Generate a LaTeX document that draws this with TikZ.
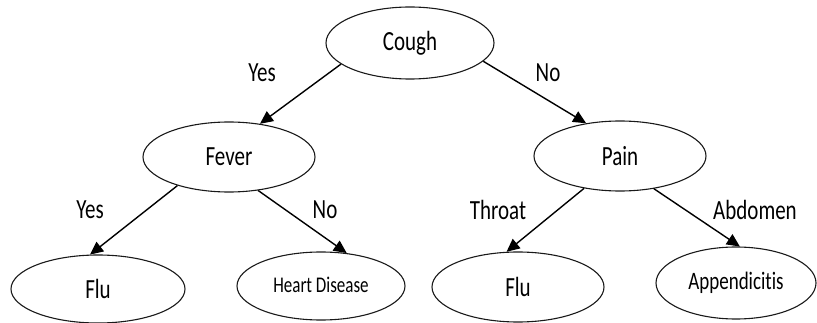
\documentclass[tikz,border=0pt]{standalone}
\usepackage{fontspec}
\setmainfont{Carlito}[Ligatures=NoCommon]
\usetikzlibrary{shapes.geometric,arrows.meta}
\newcommand{\tall}[1]{\scalebox{1}[1.32]{#1}}
\tikzset{
  ell/.style={draw=black!90, line width=1.1pt, ellipse, inner sep=0pt, font=\fontsize{21}{24}\selectfont},
  conn/.style={draw=black, line width=1.4pt, -{Triangle[length=13pt,width=12pt]}},
  lbl/.style={font=\fontsize{21}{24}\selectfont, inner sep=0pt}
}
\begin{document}
\begin{tikzpicture}[x=1pt,y=-1pt]
\useasboundingbox (0,0) rectangle (817,323);
\node[ell, minimum width=168pt, minimum height=72pt] (cough) at (410,43) {\tall{Cough}};
\node[ell, minimum width=172pt, minimum height=70pt] (fever) at (229,157) {\tall{Fever}};
\node[ell, minimum width=172pt, minimum height=70pt] (pain) at (620,156) {\tall{Pain}};
\node[ell, minimum width=174pt, minimum height=68pt] (flua) at (98,289) {\tall{Flu}};
\node[ell, minimum width=168pt, minimum height=68pt, font=\fontsize{17}{20}\selectfont] (heart) at (321,286) {\raisebox{3pt}{\tall{Heart Disease}}};
\node[ell, minimum width=172pt, minimum height=70pt] (flub) at (518,287) {\tall{Flu}};
\node[ell, minimum width=160pt, minimum height=72pt, font=\fontsize{19}{22}\selectfont] (app) at (736,283) {\tall{Appendicitis}};
\draw[conn] (cough.197) -- (fever.47);
\draw[conn] (cough.346) -- (pain.136);
\draw[conn] (fever.209) -- (flua.103);
\draw[conn] (fever.311) -- (heart.52);
\draw[conn] (pain.222) -- (flub.108);
\draw[conn] (pain.316) -- (app.84);
\node[lbl] (l1) at (262,73) {\tall{Yes}};
\node[lbl] (l2) at (548,73) {\tall{No}};
\node[lbl] (l3) at (90,210) {\tall{Yes}};
\node[lbl] (l4) at (325,210) {\tall{No}};
\node[lbl] (l5) at (498,210) {\tall{Throat}};
\node[lbl] (l6) at (755,210) {\tall{Abdomen}};
\end{tikzpicture}
\end{document}
